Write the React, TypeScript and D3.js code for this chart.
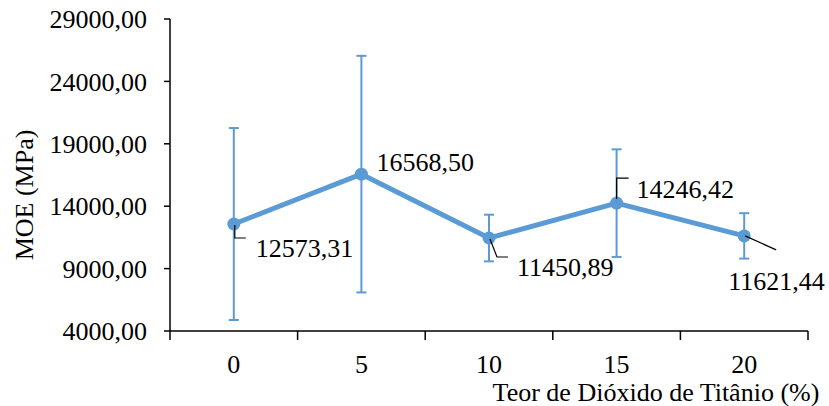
import React from "react";
import * as d3 from "d3";

const categories = ["0", "5", "10", "15", "20"];
const moe = [12573.31, 16568.5, 11450.89, 14246.42, 11621.44];
const errors = [7690, 9480, 1870, 4310, 1820];
const yTicks = [4000, 9000, 14000, 19000, 24000, 29000];

const locale = d3.formatLocale({
  decimal: ",",
  thousands: "",
  grouping: [3],
  currency: ["", ""],
});
const fmt = locale.format(".2f");

// label placement relative to each point: [dx, dy] of text start, leader path
const labelPos: { dx: number; dy: number; leader: string | null }[] = [
  { dx: 22, dy: 24, leader: "M1,1 L1,14 L12,14" },
  { dx: 15, dy: -12, leader: null },
  { dx: 28, dy: 29, leader: "M1,1 L8,19 L19,19" },
  { dx: 20, dy: -14, leader: "M0,-4 L0,-25 L12,-25" },
  { dx: -16, dy: 45, leader: "M1,0 L32,14" },
];

const font = "Liberation Serif, Tinos, Times New Roman, DejaVu Serif, serif";

const App = () => {
  const width = 829,
    height = 406;
  const left = 170,
    right = 808,
    top = 19,
    bottom = 331;

  const x = d3.scaleBand().domain(categories).range([left, right]).padding(0);
  const y = d3.scaleLinear().domain([4000, 29000]).range([bottom, top]);
  const cx = (c: string) => (x(c) as number) + x.bandwidth() / 2;

  const line = d3
    .line<number>()
    .x((d, i) => cx(categories[i]))
    .y((d) => y(d));

  const blue = "#5B9BD5";
  const ts = { fontFamily: font, fontSize: 26, fill: "#000" };

  const xTickPos = categories.map((c) => x(c) as number).concat([right]);

  return (
    <svg
      width={width}
      height={height}
      style={{ position: "absolute", left: 0, top: 0, fontFamily: font }}
    >
      <rect width={width} height={height} fill="#fff" />

      {/* y axis */}
      <line x1={left} x2={left} y1={top} y2={bottom} stroke="#000" strokeWidth={1.5} />
      {yTicks.map((t) => (
        <g key={t}>
          <line x1={left - 6} x2={left} y1={y(t)} y2={y(t)} stroke="#000" strokeWidth={1.5} />
          <text x={147} y={y(t)} dy="0.35em" textAnchor="end" style={ts}>
            {fmt(t)}
          </text>
        </g>
      ))}

      {/* x axis */}
      <line x1={left} x2={right} y1={bottom} y2={bottom} stroke="#000" strokeWidth={1.5} />
      {xTickPos.map((p, i) => (
        <line key={i} x1={p} x2={p} y1={bottom} y2={bottom + 9} stroke="#000" strokeWidth={1.5} />
      ))}
      {categories.map((c) => (
        <text key={c} x={cx(c)} y={373} textAnchor="middle" style={ts}>
          {c}
        </text>
      ))}

      {/* axis titles */}
      <text transform={`translate(33,195) rotate(-90)`} textAnchor="middle" style={ts}>
        MOE (MPa)
      </text>
      <text x={656} y={401} textAnchor="middle" style={ts}>
        Teor de Dióxido de Titânio (%)
      </text>

      {/* error bars */}
      {moe.map((v, i) => {
        const px = cx(categories[i]);
        const y1 = y(v + errors[i]);
        const y2 = y(v - errors[i]);
        return (
          <g key={i} stroke={blue} strokeWidth={2}>
            <line x1={px} x2={px} y1={y1} y2={y2} />
            <line x1={px - 5} x2={px + 5} y1={y1} y2={y1} />
            <line x1={px - 5} x2={px + 5} y1={y2} y2={y2} />
          </g>
        );
      })}

      {/* series line */}
      <path d={line(moe) || ""} fill="none" stroke={blue} strokeWidth={5} strokeLinejoin="round" />
      {moe.map((v, i) => (
        <circle key={i} cx={cx(categories[i])} cy={y(v)} r={6.5} fill={blue} />
      ))}

      {/* data labels */}
      {moe.map((v, i) => {
        const px = cx(categories[i]);
        const py = y(v);
        const lp = labelPos[i];
        return (
          <g key={i}>
            {lp.leader && (
              <path
                d={lp.leader}
                transform={`translate(${px},${py})`}
                fill="none"
                stroke="#000"
                strokeWidth={1.2}
              />
            )}
            <text x={px + lp.dx} y={py + lp.dy} dy="0.35em" style={ts}>
              {fmt(v)}
            </text>
          </g>
        );
      })}
    </svg>
  );
};

export default App;
